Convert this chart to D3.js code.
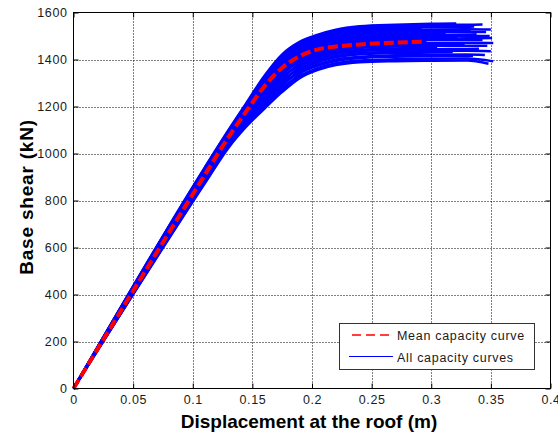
<!DOCTYPE html>
<html>
<head>
<meta charset="utf-8">
<script src="https://cdn.jsdelivr.net/npm/d3@7"></script>
<style>
  body { margin: 0; background: #fff; }
  svg { display: block; font-family: "Liberation Sans", Arial, Helvetica, sans-serif; }
</style>
</head>
<body>
<svg id="chart" width="558" height="436"></svg>
<script>
// Roof displacement grid (m) shared by the pushover curves
const dispGrid = [0, 0.11, 0.13, 0.145, 0.16, 0.175, 0.19, 0.205, 0.22, 0.24, 0.27, 0.30, 0.33];

// Final roof displacement reached by each analysis (m)
const curveEnd = [0.348, 0.352, 0.335, 0.345, 0.318, 0.350, 0.340, 0.305, 0.347, 0.328,
                  0.352, 0.296, 0.343, 0.351, 0.322, 0.349, 0.338, 0.312, 0.346, 0.333,
                  0.350, 0.292, 0.336, 0.325, 0.343, 0.321];

// Base shear (kN) of each curve on the grid points it reaches; last value is at its end displacement
const curveShear = [
  [0, 872, 1025, 1115, 1190, 1262, 1322, 1356, 1376, 1388, 1393, 1395, 1396, 1382],
  [0, 879, 1033, 1125, 1204, 1278, 1330, 1364, 1384, 1396, 1401, 1403, 1404, 1392],
  [0, 875, 1029, 1120, 1197, 1270, 1340, 1374, 1394, 1406, 1412, 1414, 1415, 1416],
  [0, 886, 1040, 1135, 1218, 1294, 1347, 1380, 1400, 1412, 1418, 1420, 1421, 1419],
  [0, 882, 1036, 1130, 1211, 1286, 1356, 1389, 1409, 1422, 1427, 1430, 1431],
  [0, 892, 1048, 1145, 1232, 1310, 1362, 1395, 1415, 1428, 1433, 1436, 1437, 1435],
  [0, 889, 1044, 1140, 1225, 1302, 1370, 1403, 1423, 1435, 1441, 1444, 1445, 1446],
  [0, 899, 1055, 1155, 1246, 1326, 1376, 1409, 1429, 1442, 1447, 1450, 1450],
  [0, 896, 1051, 1150, 1239, 1318, 1384, 1416, 1436, 1449, 1455, 1458, 1459, 1458],
  [0, 906, 1063, 1165, 1260, 1342, 1390, 1422, 1442, 1455, 1461, 1464, 1465],
  [0, 903, 1059, 1160, 1253, 1334, 1396, 1428, 1448, 1461, 1467, 1470, 1471, 1470],
  [0, 909, 1066, 1170, 1267, 1350, 1402, 1434, 1455, 1468, 1474, 1476],
  [0, 913, 1070, 1175, 1274, 1358, 1408, 1440, 1461, 1474, 1480, 1483, 1484, 1483],
  [0, 906, 1063, 1165, 1260, 1342, 1414, 1446, 1467, 1480, 1486, 1489, 1490, 1491],
  [0, 916, 1074, 1180, 1281, 1366, 1419, 1451, 1471, 1484, 1491, 1494, 1495],
  [0, 920, 1078, 1185, 1288, 1374, 1425, 1457, 1477, 1491, 1497, 1500, 1501, 1500],
  [0, 913, 1070, 1175, 1274, 1358, 1430, 1461, 1482, 1495, 1502, 1505, 1506, 1507],
  [0, 923, 1081, 1190, 1295, 1382, 1436, 1467, 1488, 1501, 1508, 1511, 1512],
  [0, 926, 1085, 1195, 1302, 1390, 1442, 1473, 1494, 1507, 1514, 1517, 1518, 1517],
  [0, 920, 1078, 1185, 1288, 1374, 1447, 1478, 1498, 1512, 1519, 1522, 1523, 1524],
  [0, 930, 1089, 1200, 1309, 1398, 1453, 1484, 1504, 1518, 1525, 1528, 1529, 1528],
  [0, 933, 1093, 1205, 1316, 1406, 1458, 1488, 1509, 1523, 1529, 1531],
  [0, 926, 1085, 1195, 1302, 1390, 1462, 1493, 1513, 1527, 1534, 1538, 1539, 1540],
  [0, 937, 1096, 1210, 1323, 1414, 1467, 1497, 1518, 1532, 1539, 1543, 1544],
  [0, 933, 1093, 1205, 1316, 1406, 1471, 1502, 1522, 1536, 1543, 1547, 1548, 1549],
  [0, 940, 1100, 1215, 1330, 1422, 1476, 1506, 1527, 1541, 1548, 1552, 1553]
];

// Mean capacity curve
const meanDisp  = [0, 0.11, 0.13, 0.145, 0.16, 0.175, 0.19, 0.205, 0.22, 0.24, 0.27, 0.294];
const meanShear = [0, 908, 1070, 1180, 1285, 1365, 1415, 1443, 1455, 1464, 1472, 1476];

const xTicks = [0, 0.05, 0.1, 0.15, 0.2, 0.25, 0.3, 0.35, 0.4];
const xTickLabels = ["0", "0.05", "0.1", "0.15", "0.2", "0.25", "0.3", "0.35", "0.4"];
const yTicks = [0, 200, 400, 600, 800, 1000, 1200, 1400, 1600];
const yTickLabels = ["0", "200", "400", "600", "800", "1000", "1200", "1400", "1600"];
const legendLabels = ["Mean capacity curve", "All capacity curves"];

const svg = d3.select("#chart");
const box = { left: 73.5, right: 550.5, top: 12.5, bottom: 388.5 };

const x = d3.scaleLinear().domain([0, 0.4]).range([box.left, box.right]);
const y = d3.scaleLinear().domain([0, 1600]).range([box.bottom, box.top]);

// Dotted grid
const grid = svg.append("g").attr("stroke", "#000").attr("stroke-width", 1)
  .attr("stroke-dasharray", "1,2");
grid.selectAll("line.gx").data(xTicks.slice(1, -1)).join("line")
  .attr("x1", d => Math.round(x(d)) + 0.5).attr("x2", d => Math.round(x(d)) + 0.5)
  .attr("y1", box.top).attr("y2", box.bottom);
grid.selectAll("line.gy").data(yTicks.slice(1, -1)).join("line")
  .attr("y1", d => Math.round(y(d)) + 0.5).attr("y2", d => Math.round(y(d)) + 0.5)
  .attr("x1", box.left).attr("x2", box.right);

const line = d3.line().x(d => x(d[0])).y(d => y(d[1])).curve(d3.curveMonotoneX);

// All capacity curves
const curves = curveShear.map((vals, i) => {
  const end = curveEnd[i];
  const pts = [];
  for (let k = 0; k < vals.length - 1; k++) {
    if (dispGrid[k] < end) pts.push([dispGrid[k], vals[k]]);
  }
  pts.push([end, vals[vals.length - 1]]);
  return pts;
});
svg.append("g").selectAll("path").data(curves).join("path")
  .attr("d", line)
  .attr("fill", "none")
  .attr("stroke", "#0000ff")
  .attr("stroke-width", 2.5);

// Mean capacity curve
const meanPts = meanDisp.map((d, i) => [d, meanShear[i]]);
svg.append("path").datum(meanPts)
  .attr("d", line)
  .attr("fill", "none")
  .attr("stroke", "#ff0000")
  .attr("stroke-width", 4)
  .attr("stroke-dasharray", "10,4");

// Axes with inward ticks on all four sides
const tickFont = g => g.selectAll("text")
  .attr("font-size", 12.5).attr("fill", "#1a1a1a").attr("letter-spacing", "0.6px")
  .attr("font-family", "'Liberation Sans', Arial, sans-serif");

const xAxis = svg.append("g").attr("transform", `translate(0,${box.bottom})`)
  .call(d3.axisBottom(x).tickValues(xTicks).tickFormat((d, i) => xTickLabels[i])
    .tickSizeInner(-5).tickSizeOuter(0).tickPadding(7));
xAxis.call(tickFont);
const yAxis = svg.append("g").attr("transform", `translate(${box.left},0)`)
  .call(d3.axisLeft(y).tickValues(yTicks).tickFormat((d, i) => yTickLabels[i])
    .tickSizeInner(-5).tickSizeOuter(0).tickPadding(6));
yAxis.call(tickFont);
const xTop = svg.append("g").attr("transform", `translate(0,${box.top})`)
  .call(d3.axisTop(x).tickValues(xTicks).tickFormat("").tickSizeInner(-5).tickSizeOuter(0));
const yRight = svg.append("g").attr("transform", `translate(${box.right},0)`)
  .call(d3.axisRight(y).tickValues(yTicks).tickFormat("").tickSizeInner(-5).tickSizeOuter(0));
[xAxis, yAxis, xTop, yRight].forEach(a => {
  a.select(".domain").remove();
  a.selectAll(".tick line").attr("stroke", "#000");
});

svg.append("rect")
  .attr("x", box.left).attr("y", box.top)
  .attr("width", box.right - box.left).attr("height", box.bottom - box.top)
  .attr("fill", "none").attr("stroke", "#000").attr("stroke-width", 1);

// Axis titles
svg.append("text")
  .attr("x", 309).attr("y", 428)
  .attr("text-anchor", "middle")
  .attr("font-size", 19).attr("font-weight", "bold").attr("fill", "#000")
  .text("Displacement at the roof (m)");
svg.append("text")
  .attr("transform", "translate(33,197) rotate(-90)")
  .attr("text-anchor", "middle")
  .attr("font-size", 19).attr("font-weight", "bold").attr("fill", "#000")
  .attr("letter-spacing", "0.8px")
  .text("Base shear (kN)");

// Legend
const legend = svg.append("g");
legend.append("rect")
  .attr("x", 339.5).attr("y", 323.5).attr("width", 195).attr("height", 46)
  .attr("fill", "#fff").attr("stroke", "#333").attr("stroke-width", 1);
legend.append("line")
  .attr("x1", 352).attr("x2", 393).attr("y1", 335).attr("y2", 335)
  .attr("stroke", "#ff0000").attr("stroke-width", 1.5).attr("stroke-dasharray", "9,5");
legend.append("line")
  .attr("x1", 349).attr("x2", 393).attr("y1", 356.5).attr("y2", 356.5)
  .attr("stroke", "#0000ff").attr("stroke-width", 1);
legend.selectAll("text").data(legendLabels).join("text")
  .attr("x", 397).attr("y", (d, i) => 340 + i * 22)
  .attr("font-size", 12.5).attr("fill", "#1a1a1a").attr("letter-spacing", "0.7px")
  .text(d => d);
</script>
</body>
</html>
